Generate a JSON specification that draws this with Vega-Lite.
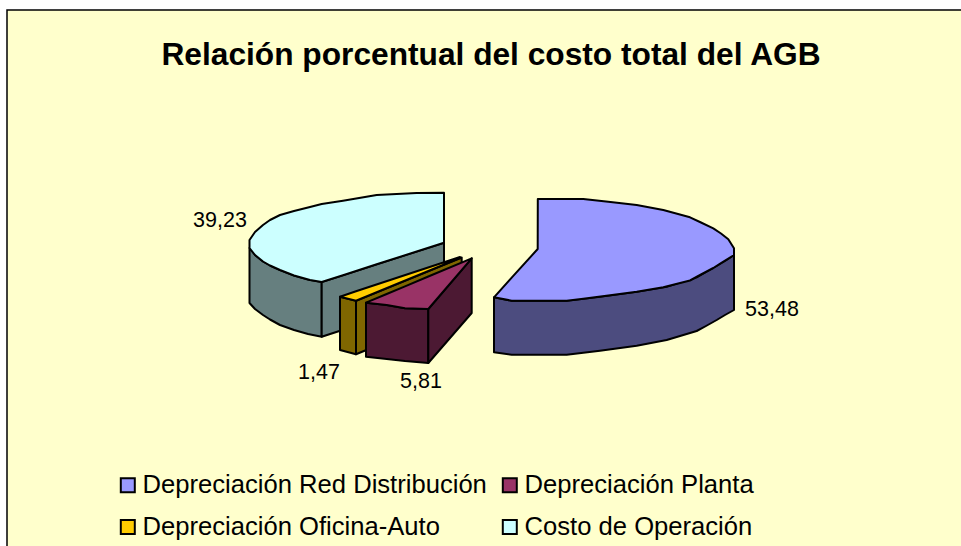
{"$schema":"https://vega.github.io/schema/vega-lite/v6.json","width":956,"height":540,"autosize":{"type":"none"},"padding":{"left":7,"top":10,"right":0,"bottom":0},"background":"white","view":{"fill":"#FFFFCC","stroke":"black","strokeWidth":1.5},"title":{"text":"Relación porcentual del costo total del AGB","font":"Liberation Sans","fontSize":31.7,"fontWeight":"bold","color":"black","anchor":"middle","dy":66,"dx":6},"layer":[{"data":{"values":[
{"cara":"cost-outer","parte":"Costo lateral","x":249.5,"y":248,"y2":303},{"cara":"cost-outer","parte":"Costo lateral","x":255,"y":255,"y2":309},{"cara":"cost-outer","parte":"Costo lateral","x":263,"y":261.5,"y2":315},{"cara":"cost-outer","parte":"Costo lateral","x":270,"y":265.5,"y2":319.5},{"cara":"cost-outer","parte":"Costo lateral","x":280,"y":270,"y2":325},{"cara":"cost-outer","parte":"Costo lateral","x":294,"y":275.5,"y2":330},{"cara":"cost-outer","parte":"Costo lateral","x":308,"y":279.5,"y2":334},{"cara":"cost-outer","parte":"Costo lateral","x":321.7,"y":282,"y2":336.7},
{"cara":"cost-inner","parte":"Costo lateral","x":321.7,"y":282,"y2":336.7},{"cara":"cost-inner","parte":"Costo lateral","x":444,"y":242.7,"y2":297},
{"cara":"cost-top","parte":"Costo de Operación","x":249.5,"y":240,"y2":248},{"cara":"cost-top","parte":"Costo de Operación","x":255,"y":232,"y2":255},{"cara":"cost-top","parte":"Costo de Operación","x":263,"y":225,"y2":261.5},{"cara":"cost-top","parte":"Costo de Operación","x":270,"y":220,"y2":265.5},{"cara":"cost-top","parte":"Costo de Operación","x":280,"y":215,"y2":270},{"cara":"cost-top","parte":"Costo de Operación","x":294,"y":211,"y2":275.5},{"cara":"cost-top","parte":"Costo de Operación","x":310,"y":207,"y2":280},{"cara":"cost-top","parte":"Costo de Operación","x":321.7,"y":204,"y2":282},{"cara":"cost-top","parte":"Costo de Operación","x":343,"y":200.7,"y2":275.2},{"cara":"cost-top","parte":"Costo de Operación","x":376.7,"y":195,"y2":264.3},{"cara":"cost-top","parte":"Costo de Operación","x":416.7,"y":193,"y2":251.5},{"cara":"cost-top","parte":"Costo de Operación","x":444,"y":192.7,"y2":242.7},
{"cara":"office-inner","parte":"Oficina lateral","x":356,"y":300.7,"y2":354.3},{"cara":"office-inner","parte":"Oficina lateral","x":461.7,"y":257.5,"y2":311},
{"cara":"office-front","parte":"Oficina lateral","x":340,"y":296.7,"y2":350},{"cara":"office-front","parte":"Oficina lateral","x":356,"y":300.7,"y2":354.3},
{"cara":"office-top","parte":"Depreciación Oficina-Auto","x":340,"y":296.7,"y2":296.7},{"cara":"office-top","parte":"Depreciación Oficina-Auto","x":356,"y":291.3,"y2":300.7},{"cara":"office-top","parte":"Depreciación Oficina-Auto","x":460,"y":257,"y2":258},
{"cara":"plant-front","parte":"Planta lateral","x":366,"y":302.7,"y2":356.7},{"cara":"plant-front","parte":"Planta lateral","x":386.7,"y":305,"y2":359},{"cara":"plant-front","parte":"Planta lateral","x":405,"y":308.3,"y2":361},{"cara":"plant-front","parte":"Planta lateral","x":428.3,"y":309,"y2":363},
{"cara":"plant-side","parte":"Planta lateral","x":428.3,"y":309,"y2":363},{"cara":"plant-side","parte":"Planta lateral","x":471.7,"y":258.3,"y2":313},
{"cara":"plant-top","parte":"Depreciación Planta","x":366,"y":302.7,"y2":302.7},{"cara":"plant-top","parte":"Depreciación Planta","x":386.7,"y":294,"y2":305},{"cara":"plant-top","parte":"Depreciación Planta","x":405,"y":286.3,"y2":308.3},{"cara":"plant-top","parte":"Depreciación Planta","x":428.3,"y":276.5,"y2":309},{"cara":"plant-top","parte":"Depreciación Planta","x":471.7,"y":258.3,"y2":258.3},
{"cara":"net-side","parte":"Red lateral","x":494,"y":297.3,"y2":352.3},{"cara":"net-side","parte":"Red lateral","x":511.7,"y":300.7,"y2":354.7},{"cara":"net-side","parte":"Red lateral","x":566.7,"y":300.7,"y2":354.7},{"cara":"net-side","parte":"Red lateral","x":600,"y":296.7,"y2":350.7},{"cara":"net-side","parte":"Red lateral","x":636.7,"y":291.7,"y2":345.7},{"cara":"net-side","parte":"Red lateral","x":666.7,"y":286.7,"y2":340},{"cara":"net-side","parte":"Red lateral","x":696.7,"y":277.3,"y2":331},{"cara":"net-side","parte":"Red lateral","x":706,"y":272,"y2":326},{"cara":"net-side","parte":"Red lateral","x":716.7,"y":266,"y2":320},{"cara":"net-side","parte":"Red lateral","x":725,"y":261,"y2":315},{"cara":"net-side","parte":"Red lateral","x":734,"y":255,"y2":310},
{"cara":"net-top","parte":"Depreciación Red Distribución","x":494,"y":297.3,"y2":297.3},{"cara":"net-top","parte":"Depreciación Red Distribución","x":511.7,"y":277.7,"y2":300.7},{"cara":"net-top","parte":"Depreciación Red Distribución","x":537.7,"y":249,"y2":300.7},{"cara":"net-top","parte":"Depreciación Red Distribución","x":537.8,"y":199,"y2":300.7},{"cara":"net-top","parte":"Depreciación Red Distribución","x":566.7,"y":199,"y2":300.7},{"cara":"net-top","parte":"Depreciación Red Distribución","x":583.3,"y":199,"y2":298.7},{"cara":"net-top","parte":"Depreciación Red Distribución","x":608.3,"y":201.7,"y2":295.6},{"cara":"net-top","parte":"Depreciación Red Distribución","x":636.7,"y":205,"y2":291.7},{"cara":"net-top","parte":"Depreciación Red Distribución","x":663.3,"y":210,"y2":287.3},{"cara":"net-top","parte":"Depreciación Red Distribución","x":690,"y":217.3,"y2":280.5},{"cara":"net-top","parte":"Depreciación Red Distribución","x":701,"y":222.5,"y2":274.5},{"cara":"net-top","parte":"Depreciación Red Distribución","x":713.3,"y":228.3,"y2":268},{"cara":"net-top","parte":"Depreciación Red Distribución","x":721,"y":233.5,"y2":263},{"cara":"net-top","parte":"Depreciación Red Distribución","x":728.3,"y":239.3,"y2":258.6},{"cara":"net-top","parte":"Depreciación Red Distribución","x":734,"y":248.3,"y2":255}
]},"mark":{"type":"area","stroke":"black","strokeWidth":2,"strokeJoin":"round","opacity":1,"interpolate":"linear"},"encoding":{"x":{"field":"x","type":"quantitative","scale":{"domain":[7,963],"nice":false,"zero":false},"axis":null},"y":{"field":"y","type":"quantitative","scale":{"domain":[550,10],"nice":false,"zero":false},"axis":null},"y2":{"field":"y2"},"detail":{"field":"cara"},"color":{"field":"parte","type":"nominal","scale":{"domain":["Depreciación Red Distribución","Depreciación Planta","Depreciación Oficina-Auto","Costo de Operación","Red lateral","Planta lateral","Oficina lateral","Costo lateral"],"range":["#9999FF","#993366","#FFCC00","#CCFFFF","#4C4C7F","#4C1933","#7F6600","#667F7F"]},"legend":{"title":null,"values":["Depreciación Red Distribución","Depreciación Oficina-Auto","Depreciación Planta","Costo de Operación"],"orient":"none","legendX":108,"legendY":462,"columns":2,"symbolType":"square","symbolSize":196,"symbolStrokeColor":"black","symbolStrokeWidth":2,"symbolOpacity":1,"labelFont":"Liberation Sans","labelFontSize":25.6,"labelColor":"black","labelLimit":500,"labelOffset":2,"rowPadding":15,"columnPadding":10,"clipHeight":26}}}},{"data":{"values":[{"etiqueta":"53,48","x":772,"y":310},{"etiqueta":"39,23","x":220,"y":221},{"etiqueta":"1,47","x":319,"y":373},{"etiqueta":"5,81","x":421,"y":382}]},"mark":{"type":"text","font":"Liberation Sans","fontSize":21.5,"color":"black","baseline":"middle"},"encoding":{"x":{"field":"x","type":"quantitative"},"y":{"field":"y","type":"quantitative"},"text":{"field":"etiqueta"}}}]}
